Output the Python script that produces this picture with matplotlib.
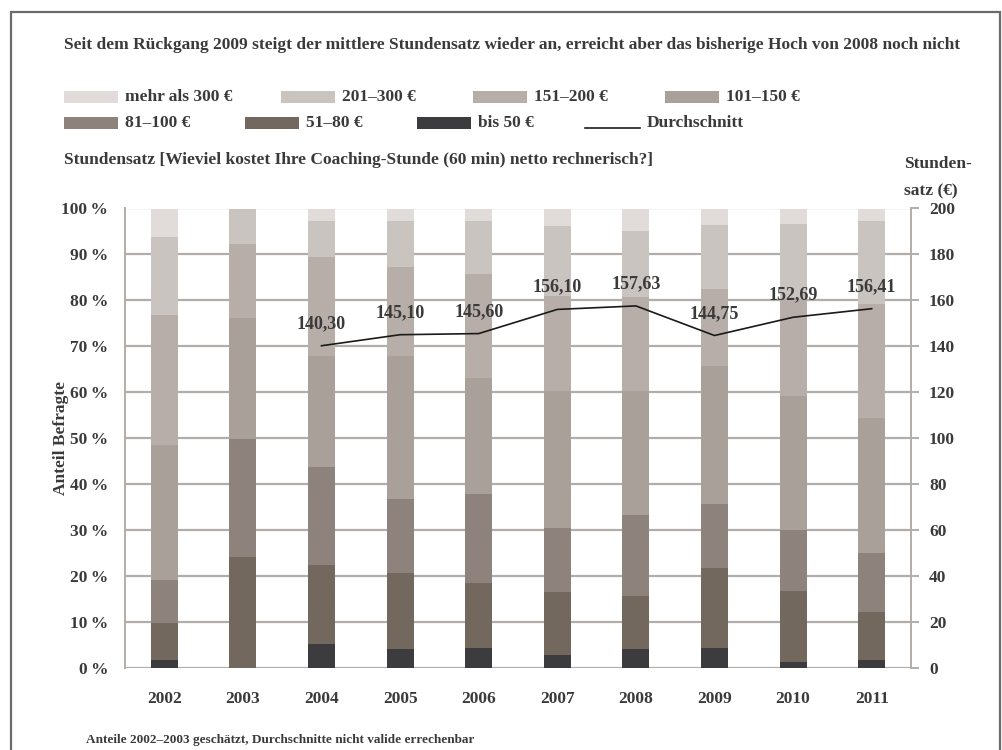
import matplotlib
matplotlib.use("Agg")
import matplotlib.pyplot as plt
from matplotlib.patches import Rectangle
from matplotlib.lines import Line2D
import numpy as np

years = ["2002", "2003", "2004", "2005", "2006", "2007", "2008", "2009", "2010", "2011"]
bis_50 = [1.8, 0, 5.3, 4.2, 4.5, 2.9, 4.2, 4.5, 1.4, 1.8]
r51_80 = [8.1, 24.1, 17.2, 16.6, 14.1, 13.8, 11.5, 17.4, 15.5, 10.4]
r81_100 = [9.2, 25.8, 21.3, 16.0, 19.2, 13.8, 17.6, 13.9, 13.2, 12.9]
r101_150 = [29.5, 26.3, 24.2, 31.2, 25.4, 29.9, 27.1, 30.0, 29.2, 29.3]
r151_200 = [28.2, 16.1, 21.5, 19.3, 22.5, 20.6, 20.3, 16.7, 21.0, 24.9]
r201_300 = [17.0, 7.7, 7.8, 10.0, 11.6, 15.2, 14.4, 13.9, 16.3, 17.9]
ueber_300 = [6.2, 0, 2.7, 2.7, 2.7, 3.8, 4.9, 3.6, 3.4, 2.8]
avg_years = ["2004", "2005", "2006", "2007", "2008", "2009", "2010", "2011"]
durchschnitt = [140.30, 145.10, 145.60, 156.10, 157.63, 144.75, 152.69, 156.41]

series_names = ["bis 50 €", "51–80 €", "81–100 €", "101–150 €", "151–200 €", "201–300 €", "mehr als 300 €"]
series_vals = [bis_50, r51_80, r81_100, r101_150, r151_200, r201_300, ueber_300]
colors = ["#3c3b3d", "#73685e", "#8d837c", "#a9a09a", "#b8aea9", "#c9c4c0", "#e1dcd9"]

FONT = "Liberation Serif"
TXT = "#3a3a3a"
GRID = "#b3ada9"
FS = 12.5
plt.rcParams["font.family"] = [FONT, "DejaVu Serif"]
plt.rcParams["font.weight"] = "bold"
plt.rcParams["axes.labelweight"] = "bold"

W, H = 1003, 750
fig = plt.figure(figsize=(W / 100, H / 100), dpi=100)

def fx(px):
    return px / W

def fy(py):
    return 1 - py / H

# frame
fig.patches.append(Rectangle((fx(11.5), fy(760)), fx(1000) - fx(11.5), fy(11.5) - fy(760),
                             transform=fig.transFigure, fill=False, edgecolor="#6b6b6b", lw=1.6))

ax = fig.add_axes([fx(125), fy(668.3), fx(911) - fx(125), fy(208.5) - fy(668.3)])
x = np.arange(len(years))
bottom = np.zeros(len(years))
for name, vals, c in zip(series_names, series_vals, colors):
    ax.bar(x, vals, bottom=bottom, width=0.345, color=c, zorder=3, linewidth=0)
    bottom += np.array(vals)

ax.set_xlim(-0.5, len(years) - 0.5)
ax.set_ylim(0, 100)
ax.set_yticks(np.arange(0, 101, 10))
ax.set_yticklabels([f"{v}\u2009%" for v in range(0, 101, 10)])
ax.set_xticks(x)
ax.set_xticklabels(years)
ax.grid(axis="y", color=GRID, lw=1.6, zorder=0)
ax.tick_params(axis="y", length=0, pad=12, labelsize=FS, labelcolor=TXT)
ax.tick_params(axis="x", length=0, pad=16, labelsize=FS, labelcolor=TXT)
for s in ["top", "right", "bottom"]:
    ax.spines[s].set_visible(False)
ax.spines["left"].set_color(GRID)
ax.spines["left"].set_linewidth(1.4)
ax.set_ylabel("Anteil Befragte", fontsize=FS, color=TXT, fontweight="bold")
ax.yaxis.set_label_coords(fx(53) - fx(125), 0.5)

ax2 = ax.twinx()
ax2.set_ylim(0, 200)
ax2.set_yticks(np.arange(0, 201, 20))
ax2.tick_params(axis="y", length=6, width=1.4, color=GRID, pad=7, labelsize=FS, labelcolor=TXT)
for s in ["top", "left", "bottom"]:
    ax2.spines[s].set_visible(False)
ax2.spines["right"].set_color(GRID)
ax2.spines["right"].set_linewidth(1.4)
xa = [years.index(y) for y in avg_years]
ax2.plot(xa, durchschnitt, color="#1a1a1a", lw=1.2, zorder=5)
for xi, v in zip(xa, durchschnitt):
    ax2.annotate(f"{v:.2f}".replace(".", ","), (xi, v), xytext=(0, 16), textcoords="offset points",
                 ha="center", va="center", fontsize=13, color=TXT)

# texts
fig.text(fx(64), fy(45), "Seit dem Rückgang 2009 steigt der mittlere Stundensatz wieder an, erreicht aber das bisherige Hoch von 2008 noch nicht",
         fontsize=FS, color=TXT, ha="left", va="center")
fig.text(fx(64), fy(160), "Stundensatz [Wieviel kostet Ihre Coaching-Stunde (60 min) netto rechnerisch?]",
         fontsize=FS, color=TXT, ha="left", va="center")
fig.text(fx(904), fy(164), "Stunden-", fontsize=FS, color=TXT, ha="left", va="center")
fig.text(fx(904), fy(191), "satz (€)", fontsize=FS, color=TXT, ha="left", va="center")
fig.text(fx(86), fy(740), "Anteile 2002–2003 geschätzt, Durchschnitte nicht valide errechenbar",
         fontsize=9.5, color=TXT, ha="left", va="center")

# legend (flowing layout)
leg_order = [6, 5, 4, 3, 2, 1, 0]
leg_pos = [(64, 97), (281, 97), (473, 97), (665, 97), (64, 123), (245, 123), (417, 123)]
for i, (px, py) in zip(leg_order, leg_pos):
    fig.patches.append(Rectangle((fx(px), fy(py + 5.5)), fx(54), fy(0) - fy(11),
                                 transform=fig.transFigure, color=colors[i], lw=0))
    fig.text(fx(px + 61), fy(py), series_names[i], fontsize=FS, color=TXT, ha="left", va="center")
fig.lines.append(Line2D([fx(585), fx(640)], [fy(128), fy(128)], transform=fig.transFigure,
                        color="#1a1a1a", lw=1.2))
fig.text(fx(647), fy(123), "Durchschnitt", fontsize=FS, color=TXT, ha="left", va="center")

fig.savefig("out.png", dpi=100, facecolor="white")
